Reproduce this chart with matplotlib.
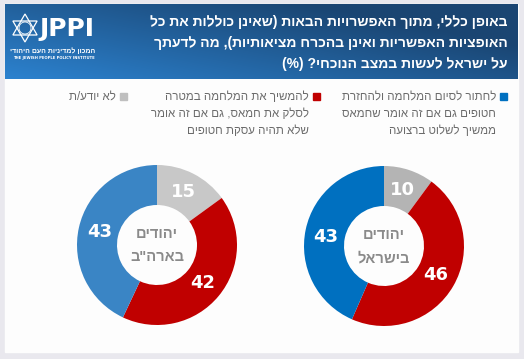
import numpy as np
import matplotlib
matplotlib.use('Agg')
import matplotlib.pyplot as plt
from matplotlib.patches import Rectangle, Polygon

# data
groups = ['יהודים\nבארה"ב', 'יהודים\nבישראל']
dont_know = [15, 10]
continue_war = [42, 46]
end_war = [43, 43]
title_lines = ['באופן כללי, מתוך האפשרויות הבאות (שאינן כוללות את כל',
               'האופציות האפשריות ואינן בהכרח מציאותיות), מה לדעתך',
               'על ישראל לעשות במצב הנוכחי? (%)']
legend_labels = [['לחתור לסיום המלחמה ולהחזרת', 'חטופים גם אם זה אומר שחמאס', 'ממשיך לשלוט ברצועה'],
                 ['להמשיך את המלחמה במטרה', 'לסלק את חמאס, גם אם זה אומר', 'שלא תהיה עסקת חטופים'],
                 ['לא יודע/ת']]
legend_colors = ['#0070c0', '#c00000', '#bfbfbf']
blues = ['#3a85c5', '#0070c0']
greys = ['#c8c8c8', '#b4b4b4']
red = '#c00000'

HEB = ['Liberation Sans', 'DejaVu Sans']


def vis(s):
    # crude visual ordering for RTL text
    return s[::-1].translate(str.maketrans('()', ')('))


W, H = 524, 359
fig = plt.figure(figsize=(W / 100, H / 100), dpi=100)
fig.patch.set_facecolor('#e9e8ee')
bg = fig.add_axes([0, 0, 1, 1])
bg.set_xlim(0, W)
bg.set_ylim(H, 0)
bg.axis('off')

# card
bg.add_patch(Rectangle((5, 4), 513, 348, color='#fdfdfd', zorder=0))

# header gradient
gx, gy = np.meshgrid(np.linspace(0, 1, 300), np.linspace(0, 1, 60))
t = np.clip(0.75 * gx + 0.55 * (1 - gy), 0, 1)
c0 = np.array([0x2c, 0x82, 0xcf]) / 255
c1 = np.array([0x1a, 0x45, 0x72]) / 255
img = c0[None, None, :] * (1 - t[..., None]) + c1[None, None, :] * t[..., None]
bg.imshow(img, extent=(5, 518, 79, 4), aspect='auto', zorder=1, interpolation='bilinear')

# logo
cx, cy, r = 25, 28, 14
tri1 = [(cx + r * np.cos(a), cy - r * np.sin(a)) for a in np.radians([90, 210, 330])]
tri2 = [(cx + r * np.cos(a), cy - r * np.sin(a)) for a in np.radians([270, 30, 150])]
for tri in (tri1, tri2):
    bg.add_patch(Polygon(tri, closed=True, fill=False, ec='white', lw=0.9, zorder=2))
bg.add_patch(plt.Circle((cx, cy), 6, fill=False, ec='white', lw=0.6, zorder=2))
bg.text(39, 29, 'JPPI', color='white', fontsize=18, fontweight='bold',
        family='DejaVu Sans', va='center', ha='left', zorder=3)
bg.text(95, 51, vis('המכון למדיניות העם היהודי'), color='white', fontsize=5, fontweight='bold',
        family=HEB, va='center', ha='right', zorder=3)
bg.text(95, 57.5, 'THE JEWISH PEOPLE POLICY INSTITUTE', color='white', fontsize=2.7, fontweight='bold',
        family='DejaVu Sans', va='center', ha='right', zorder=3)

# title
for i, line in enumerate(title_lines):
    bg.text(508, 22 + i * 21, vis(line), color='white', fontsize=10, fontweight='bold',
            family=HEB, ha='right', va='center', zorder=3)

# legend
leg_x = [507, 320, 127]
for lx, lines, col in zip(leg_x, legend_labels, legend_colors):
    bg.add_patch(Rectangle((lx - 7, 93), 7, 7, color=col, zorder=2))
    for j, line in enumerate(lines):
        bg.text(lx - 11, 97 + j * 17, vis(line), color='#6b6b6b', fontsize=8.3,
                family=HEB, ha='right', va='center', zorder=3)

# donuts
centers = [(157, 245), (384, 246)]
R = 90
for k, (px, py) in enumerate(centers):
    half = 100
    ax = fig.add_axes([(px - half) / W, (H - py - half) / H, 2 * half / W, 2 * half / H])
    ax.set_xlim(-half / R, half / R)
    ax.set_ylim(-half / R, half / R)
    ax.axis('off')
    vals = [dont_know[k], continue_war[k], end_war[k]]
    cols = [greys[k], red, blues[k]]
    wedges, _ = ax.pie(vals, colors=cols, startangle=90, counterclock=False, radius=1,
                       wedgeprops=dict(width=0.5, linewidth=0))
    ang = 90
    for v in vals:
        mid = np.radians(ang - v * 3.6 / 2)
        ax.text(0.74 * np.cos(mid), 0.74 * np.sin(mid), str(v), color='white',
                fontsize=13, fontweight='bold', ha='center', va='center')
        ang -= v * 3.6
    l1, l2 = groups[k].split('\n')
    ax.text(0, 0.14, vis(l1), color='#8a8a8a', fontsize=10.5, fontweight='bold',
            family=HEB, ha='center', va='center')
    ax.text(0, -0.15, vis(l2), color='#8a8a8a', fontsize=10.5, fontweight='bold',
            family=HEB, ha='center', va='center')
    ax.set_aspect('equal')

fig.savefig('out.png', dpi=100, facecolor=fig.get_facecolor())
